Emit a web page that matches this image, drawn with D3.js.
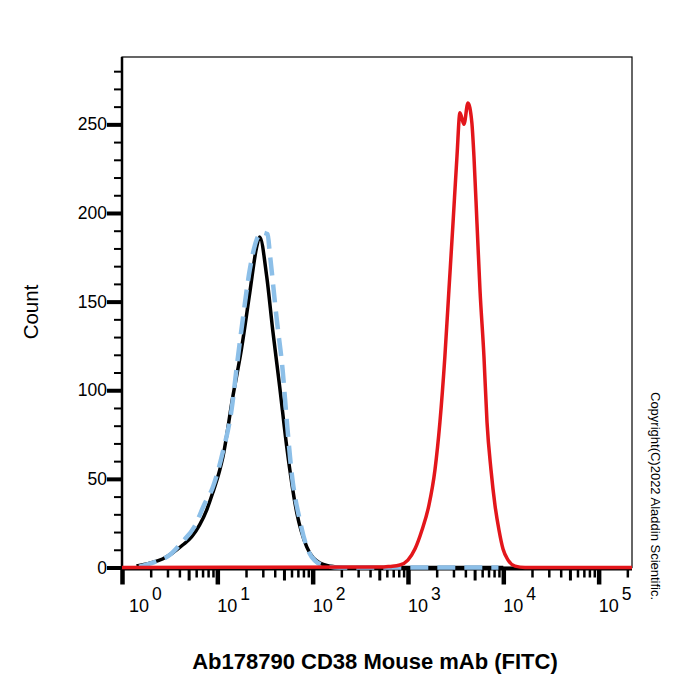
<!DOCTYPE html>
<html>
<head>
<meta charset="utf-8">
<script src="https://cdn.jsdelivr.net/npm/d3@7"></script>
<style>
  body { margin: 0; background: #fff; }
  text { font-family: "Liberation Sans", Arial, sans-serif; }
</style>
</head>
<body>
<div id="root"></div>
<script>
// FITC intensity / count pairs
const isotypeX = [1.42, 1.95, 2.66, 3.39, 4.33, 5.37, 6.52, 7.73, 8.93, 10.6, 11.4, 14.5, 18.0, 21.9, 25.9, 27.8, 33.0, 38.1, 45.1, 53.5, 68.1, 86.7, 119, 151, 209, 10000];
const isotypeCount = [0.8, 2.5, 4.8, 8.2, 12.7, 17.2, 24, 32.4, 42, 55, 62, 96, 124, 155, 181, 186.5, 164, 134, 102, 68, 31, 11.6, 2.5, 0.8, 0, 0];

const blankX = [1.51, 2.19, 3.16, 4.22, 5.75, 7.36, 8.93, 11.4, 14.1, 16.3, 18.5, 21.9, 25.9, 29.2, 33.7, 35.4, 42.0, 48.5, 53.5, 60.3, 73.1, 86.7, 105, 135, 191, 8900];
const blankCount = [0.5, 3, 7, 14, 23, 36, 45, 65, 89, 117, 140, 168, 185, 189, 188, 178, 140, 111, 83, 53, 27, 11.6, 4, 1, 0, 0];

const cd38X = [1, 560, 646, 822, 998, 1183, 1400, 1657, 1918, 2163, 2438, 2692, 2965, 3266, 3508, 3864, 4256, 4677, 4920, 5297, 5689, 6266, 6745, 7430, 8185, 9016, 9931, 11220, 13280, 16900, 223900];
const cd38Count = [0, 0.3, 0.6, 1.4, 4.2, 10.4, 21, 35, 55, 82, 119, 157, 194, 232, 256.5, 250, 262, 251, 232, 194, 157, 119, 82, 55, 35, 21, 10.4, 4.2, 0.8, 0, 0];

const decades = [0, 1, 2, 3, 4, 5];
const yMajor = [0, 50, 100, 150, 200, 250];
const xTitle = 'Ab178790 CD38 Mouse mAb (FITC)';
const yTitle = 'Count';
const copyright = 'Copyright(C)2022 Aladdin Scientific.';

let svg = d3.select('#root')
    .append('svg')
    .attr('width', 700)
    .attr('height', 700);

let plotLeft = 122, plotRight = 632, plotTop = 57, plotBottom = 567.5;

let x = d3.scaleLog().domain([1, Math.pow(10, 5.35)]).range([plotLeft, plotRight]),
    y = d3.scaleLinear().domain([0, 288]).range([plotBottom, plotTop]);

// frame
svg.append('rect')
    .attr('x', plotLeft).attr('y', plotTop)
    .attr('width', plotRight - plotLeft).attr('height', plotBottom - plotTop)
    .style('fill', 'none').style('stroke', '#000').style('stroke-width', 1.2);

// x ticks: majors at decades, minors 2..9 (5 a bit longer)
let xMinor = [];
decades.forEach((d) => {
    for (let k = 2; k <= 9; k++) {
        let v = k * Math.pow(10, d);
        if (v <= x.domain()[1]) xMinor.push(v);
    }
});
let leading = (v) => Math.round(v / Math.pow(10, Math.floor(Math.log10(v) + 1e-9)));

function xTickGroup(values, size, width) {
    let g = svg.append('g')
        .attr('transform', `translate(0,${plotBottom + 1})`)
        .call(d3.axisBottom(x).tickValues(values).tickSize(size).tickSizeOuter(0).tickFormat(''));
    g.select('.domain').remove();
    g.selectAll('line').style('stroke', '#000').style('stroke-width', width);
}
xTickGroup(xMinor.filter((v) => leading(v) !== 5), 9, 2.5);
xTickGroup(xMinor.filter((v) => leading(v) === 5), 12, 3);
xTickGroup(decades.map((d) => Math.pow(10, d)), 16, 4.5);

// y ticks
let yMinor = d3.range(0, 290, 10).filter((v) => yMajor.indexOf(v) < 0);
function yTickGroup(values, size, width) {
    let g = svg.append('g')
        .attr('transform', `translate(${plotLeft - 1},0)`)
        .call(d3.axisLeft(y).tickValues(values).tickSize(size).tickSizeOuter(0).tickFormat(''));
    g.select('.domain').remove();
    g.selectAll('line').style('stroke', '#000').style('stroke-width', width);
}
yTickGroup(yMinor, 7, 2);
yTickGroup(yMajor, 14, 4);

// axis lines
svg.append('line')
    .attr('x1', plotLeft).attr('x2', plotLeft).attr('y1', plotTop).attr('y2', plotBottom + 2)
    .style('stroke', '#000').style('stroke-width', 2.5);
svg.append('line')
    .attr('x1', plotLeft - 1).attr('x2', plotRight).attr('y1', plotBottom + 1).attr('y2', plotBottom + 1)
    .style('stroke', '#000').style('stroke-width', 4);

// y labels
svg.append('g')
    .selectAll('text')
    .data(yMajor)
    .enter()
    .append('text')
    .attr('x', plotLeft - 15)
    .attr('y', (d) => y(d) + 6)
    .attr('text-anchor', 'end')
    .style('font-size', '17.5px')
    .text((d) => d);

// x labels 10^n, the first one nudged off the y axis
let xLabels = svg.append('g')
    .selectAll('text')
    .data(decades)
    .enter()
    .append('text')
    .attr('x', (d) => x(Math.pow(10, d)) + (d === 0 ? 7 : 0))
    .attr('y', 612)
    .style('font-size', '18px');
xLabels.append('tspan').text('10');
xLabels.append('tspan').attr('dx', 3).attr('dy', -12).style('font-size', '17.5px').text((d) => d);

// titles
svg.append('text')
    .attr('x', 375).attr('y', 669)
    .attr('text-anchor', 'middle')
    .style('font-size', '22px').style('font-weight', 'bold')
    .text(xTitle);

svg.append('text')
    .attr('transform', 'translate(38,312) rotate(-90)')
    .attr('text-anchor', 'middle')
    .style('font-size', '20.5px')
    .text(yTitle);

svg.append('text')
    .attr('transform', 'translate(651,392) rotate(90)')
    .style('font-size', '13px')
    .text(copyright);

// histograms
function toPoints(xs, cs) {
    return xs.map((v, i) => [v, cs[i]]);
}
let line = d3.line()
    .x((d) => x(d[0]))
    .y((d) => y(d[1]))
    .curve(d3.curveMonotoneX);

svg.append('path')
    .datum(toPoints(isotypeX, isotypeCount))
    .attr('d', line)
    .style('fill', 'none').style('stroke', '#000').style('stroke-width', 3.5)
    .style('stroke-linejoin', 'round');

svg.append('path')
    .datum(toPoints(blankX, blankCount))
    .attr('d', line)
    .style('fill', 'none').style('stroke', '#8cbfe8').style('stroke-width', 4.5)
    .style('stroke-dasharray', '18,9');

svg.append('path')
    .datum(toPoints(cd38X, cd38Count))
    .attr('d', line)
    .style('fill', 'none').style('stroke', '#e3161b').style('stroke-width', 3.5)
    .style('stroke-linejoin', 'miter');
</script>
</body>
</html>
